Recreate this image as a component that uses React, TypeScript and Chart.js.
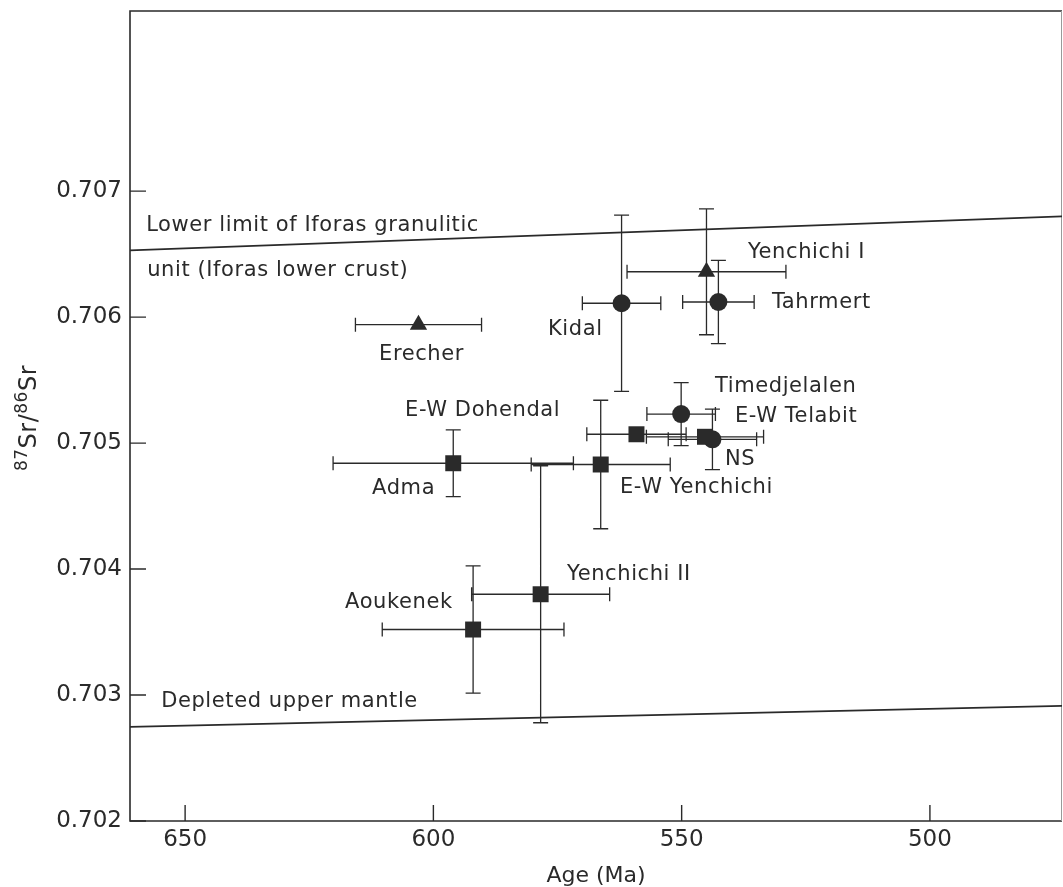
import React, { useEffect, useRef } from 'react';
import { Chart, registerables } from 'chart.js';

Chart.register(...registerables);

// ---- Data ----
const sampleNames = ['Erecher', 'Kidal', 'Yenchichi I', 'Tahrmert', 'Timedjelalen', 'E-W Telabit', 'NS', 'E-W Dohendal', 'E-W Yenchichi', 'Adma', 'Yenchichi II', 'Aoukenek'];
const sampleGroups = ['A', 'B', 'A', 'B', 'B', 'C', 'B', 'C', 'C', 'C', 'C', 'C'];
const ages = [603.0, 562.1, 545.0, 542.6, 550.1, 545.3, 543.8, 559.1, 566.3, 596.0, 578.4, 592.0];
const ageErr = [12.7, 7.9, 16.0, 7.2, 6.9, 11.8, 8.9, 10.0, 14.0, 24.2, 13.9, 18.3];
const srRatio = [0.70594, 0.70611, 0.70636, 0.70612, 0.70523, 0.70505, 0.70503, 0.70507, 0.70483, 0.70484, 0.7038, 0.70352];
const srErr = [0, 0.0007, 0.0005, 0.00033, 0.00025, 0, 0.00024, 0, 0.00051, 0.000265, 0.00102, 0.000505];

const lineAges = [661.1, 473.4];
const crustLineSr = [0.70653, 0.7068];
const mantleLineSr = [0.702747, 0.702914];

const xTicks = [650, 600, 550, 500];
const yTicks = [0.702, 0.703, 0.704, 0.705, 0.706, 0.707];

const labelTexts = ['Lower limit of Iforas granulitic', 'unit (Iforas lower crust)', 'Depleted upper mantle', 'Erecher', 'Kidal', 'Yenchichi I', 'Tahrmert', 'Timedjelalen', 'E-W Telabit', 'E-W Dohendal', 'Adma', 'E-W Yenchichi', 'NS', 'Yenchichi II', 'Aoukenek'];
const labelAges = [657.85, 657.65, 654.83, 610.94, 576.92, 536.65, 531.82, 543.3, 539.27, 605.71, 612.35, 562.42, 541.28, 573.09, 617.79];
const labelSr = [0.70673, 0.706372, 0.702946, 0.705704, 0.705903, 0.706515, 0.706118, 0.70545, 0.705211, 0.705259, 0.704639, 0.704647, 0.70487, 0.703955, 0.703733];

// ---- Styles ----
const INK = '#2a2a2a';
const FONT = '"DejaVu Sans", sans-serif';
const groupStyle: Record<string, { shape: string; radius: number }> = {
  A: { shape: 'triangle', radius: 10 },
  B: { shape: 'circle', radius: 9 },
  C: { shape: 'rect', radius: 11.3 },
};

const overlayPlugin = {
  id: 'overlay',
  beforeDatasetsDraw(chart: any) {
    const { ctx, chartArea: a, scales } = chart;
    const x = scales.x, y = scales.y;
    ctx.save();
    ctx.lineCap = 'butt';
    // frame
    ctx.strokeStyle = INK;
    ctx.lineWidth = 1.6;
    ctx.beginPath();
    ctx.moveTo(a.right, a.top);
    ctx.lineTo(a.left, a.top);
    ctx.lineTo(a.left, a.bottom);
    ctx.lineTo(a.right, a.bottom);
    ctx.stroke();
    ctx.strokeStyle = '#9a9a9a';
    ctx.lineWidth = 1;
    ctx.beginPath();
    ctx.moveTo(a.right - 0.5, a.top);
    ctx.lineTo(a.right - 0.5, a.bottom);
    ctx.stroke();
    // inward ticks
    ctx.strokeStyle = INK;
    ctx.lineWidth = 1.4;
    ctx.beginPath();
    yTicks.forEach((v) => {
      const py = y.getPixelForValue(v);
      ctx.moveTo(a.left, py);
      ctx.lineTo(a.left + 16, py);
    });
    xTicks.forEach((v) => {
      const px = x.getPixelForValue(v);
      ctx.moveTo(px, a.bottom);
      ctx.lineTo(px, a.bottom - 16);
    });
    ctx.stroke();
    // error bars
    ctx.lineWidth = 1.3;
    ctx.beginPath();
    for (let i = 0; i < ages.length; i++) {
      const cx = x.getPixelForValue(ages[i]);
      const cy = y.getPixelForValue(srRatio[i]);
      if (ageErr[i] > 0) {
        const x1 = x.getPixelForValue(ages[i] - ageErr[i]);
        const x2 = x.getPixelForValue(ages[i] + ageErr[i]);
        ctx.moveTo(x1, cy); ctx.lineTo(x2, cy);
        ctx.moveTo(x1, cy - 7); ctx.lineTo(x1, cy + 7);
        ctx.moveTo(x2, cy - 7); ctx.lineTo(x2, cy + 7);
      }
      if (srErr[i] > 0) {
        const y1 = y.getPixelForValue(srRatio[i] - srErr[i]);
        const y2 = y.getPixelForValue(srRatio[i] + srErr[i]);
        ctx.moveTo(cx, y1); ctx.lineTo(cx, y2);
        ctx.moveTo(cx - 7.5, y1); ctx.lineTo(cx + 7.5, y1);
        ctx.moveTo(cx - 7.5, y2); ctx.lineTo(cx + 7.5, y2);
      }
    }
    ctx.stroke();
    ctx.restore();
  },
  afterDatasetsDraw(chart: any) {
    const { ctx, scales } = chart;
    const x = scales.x, y = scales.y;
    ctx.save();
    ctx.fillStyle = INK;
    ctx.font = `21px ${FONT}`;
    (ctx as any).letterSpacing = '0.6px';
    ctx.textAlign = 'left';
    ctx.textBaseline = 'middle';
    labelTexts.forEach((t, i) => {
      ctx.fillText(t, x.getPixelForValue(labelAges[i]), y.getPixelForValue(labelSr[i]));
    });
    // y axis title with superscripts
    (ctx as any).letterSpacing = '0.5px';
    ctx.translate(27, 418);
    ctx.rotate(-Math.PI / 2);
    const parts: [string, boolean][] = [['87', true], ['Sr', false], ['/', false], ['86', true], ['Sr', false]];
    const supFont = `17px ${FONT}`;
    const mainFont = `24px ${FONT}`;
    let total = 0;
    parts.forEach(([s, sup]) => {
      ctx.font = sup ? supFont : mainFont;
      total += ctx.measureText(s).width;
    });
    let cx = -total / 2;
    ctx.textBaseline = 'alphabetic';
    parts.forEach(([s, sup]) => {
      ctx.font = sup ? supFont : mainFont;
      ctx.fillText(s, cx, sup ? 0 : 9);
      cx += ctx.measureText(s).width;
    });
    ctx.restore();
  },
};

export default function App() {
  const ref = useRef<HTMLCanvasElement>(null);
  useEffect(() => {
    document.body.style.margin = '0';
    document.body.style.background = '#ffffff';
    const canvas = ref.current!;
    const idx = (g: string) => ages.map((_, i) => i).filter((i) => sampleGroups[i] === g);
    const pointSet = (g: string) => ({
      type: 'scatter' as const,
      label: 'Group ' + g,
      data: idx(g).map((i) => ({ x: ages[i], y: srRatio[i] })),
      pointStyle: groupStyle[g].shape,
      pointRadius: groupStyle[g].radius,
      backgroundColor: INK,
      borderColor: INK,
      borderWidth: 0,
      clip: false,
    });
    const chart = new Chart(canvas, {
      type: 'scatter',
      data: {
        datasets: [
          {
            type: 'line',
            label: 'Lower limit of Iforas granulitic unit',
            data: lineAges.map((a, i) => ({ x: a, y: crustLineSr[i] })),
            borderColor: INK,
            borderWidth: 1.6,
            pointRadius: 0,
            showLine: true,
          } as any,
          {
            type: 'line',
            label: 'Depleted upper mantle',
            data: lineAges.map((a, i) => ({ x: a, y: mantleLineSr[i] })),
            borderColor: INK,
            borderWidth: 1.6,
            pointRadius: 0,
            showLine: true,
          } as any,
          pointSet('C'),
          pointSet('A'),
          pointSet('B'),
        ],
      },
      options: {
        responsive: false,
        animation: false,
        events: [],
        layout: { autoPadding: false, padding: { top: 11, right: 1, left: 0, bottom: 0 } },
        plugins: { legend: { display: false }, tooltip: { enabled: false }, title: { display: false } },
        scales: {
          x: {
            type: 'linear',
            reverse: true,
            min: 473.4,
            max: 661.1,
            afterBuildTicks: (s: any) => { s.ticks = xTicks.map((v) => ({ value: v })); },
            afterFit: (s: any) => { s.height = 66; s.paddingLeft = 0; s.paddingRight = 0; },
            grid: { display: false, drawTicks: false },
            border: { display: false },
            ticks: { color: INK, font: { family: FONT, size: 23 }, padding: 5, maxRotation: 0, autoSkip: false, callback: (v: any) => String(v) },
            title: { display: true, text: 'Age (Ma)', color: INK, font: { family: FONT, size: 22, lineHeight: 1 }, padding: { top: 0, bottom: 0 } },
          },
          y: {
            type: 'linear',
            min: 0.702,
            max: 0.70843,
            afterBuildTicks: (s: any) => { s.ticks = yTicks.map((v) => ({ value: v })); },
            afterFit: (s: any) => { s.width = 130; s.paddingTop = 0; s.paddingBottom = 0; },
            grid: { display: false, drawTicks: false },
            border: { display: false },
            ticks: { color: INK, font: { family: FONT, size: 23 }, padding: 8, autoSkip: false, callback: (v: any) => Number(v).toFixed(3) },
          },
        },
      },
      plugins: [overlayPlugin],
    } as any);
    return () => chart.destroy();
  }, []);
  return <canvas ref={ref} width={1063} height={887} style={{ display: 'block', width: 1063, height: 887 }} />;
}
